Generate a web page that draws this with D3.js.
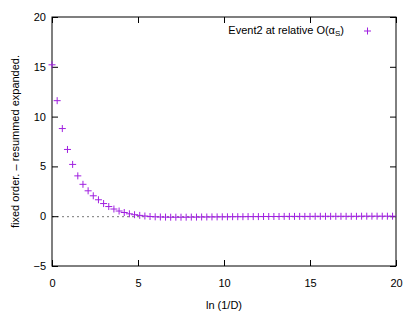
<!DOCTYPE html>
<html>
<head>
<meta charset="utf-8">
<script src="https://cdn.jsdelivr.net/npm/d3@7"></script>
<style>
  body { margin: 0; background: #fff; }
  text { font-family: "Liberation Sans", Arial, sans-serif; font-size: 11px; fill: #000; }
</style>
</head>
<body>
<div id="chart-area"></div>
<script>
// data: x = 0, 0.3, 0.6 ... 19.8
var xValues = [0, 0.3, 0.6, 0.9, 1.2, 1.5, 1.8, 2.1, 2.4, 2.7,
    3.0, 3.3, 3.6, 3.9, 4.2, 4.5, 4.8, 5.1, 5.4, 5.7,
    6.0, 6.3, 6.6, 6.9, 7.2, 7.5, 7.8, 8.1, 8.4, 8.7,
    9.0, 9.3, 9.6, 9.9, 10.2, 10.5, 10.8, 11.1, 11.4, 11.7,
    12.0, 12.3, 12.6, 12.9, 13.2, 13.5, 13.8, 14.1, 14.4, 14.7,
    15.0, 15.3, 15.6, 15.9, 16.2, 16.5, 16.8, 17.1, 17.4, 17.7,
    18.0, 18.3, 18.6, 18.9, 19.2, 19.5, 19.8];
var yValues = [15.2, 11.6, 8.8, 6.7, 5.2, 4.05, 3.2, 2.55, 2.05, 1.65,
    1.27, 0.97, 0.72, 0.52, 0.37, 0.24, 0.15, 0.08, 0.02, -0.03,
    -0.06, -0.08, -0.09, -0.1, -0.1, -0.1, -0.1, -0.09, -0.09, -0.08,
    -0.08, -0.07, -0.07, -0.06, -0.06, -0.05, -0.05, -0.05, -0.04, -0.04,
    -0.04, -0.03, -0.03, -0.03, -0.03, -0.02, -0.02, -0.02, -0.02, -0.02,
    -0.02, -0.01, -0.01, -0.01, -0.01, -0.01, -0.01, -0.01, -0.01, -0.01,
    0, 0, 0, 0, 0, 0, 0];
var xTicks = [0, 5, 10, 15, 20];
var yTicks = [-5, 0, 5, 10, 15, 20];
var seriesName = "Event2 at relative O(α";
var xTitle = "ln (1/D)";
var yTitle = "fixed order. – resummed expanded.";

var W = 415, H = 318;
var mLeft = 52, mRight = 396, mTop = 17, mBottom = 266;
var color = "#a020e0";

var svg = d3.select("#chart-area")
    .append("svg")
    .attr("width", W)
    .attr("height", H);

var x = d3.scaleLinear().domain([0, 20]).range([mLeft, mRight]);
var y = d3.scaleLinear().domain([-5, 20]).range([mBottom, mTop]);

// zero line
svg.append("line")
    .attr("x1", mLeft).attr("x2", mRight)
    .attr("y1", y(0) + 0.5).attr("y2", y(0) + 0.5)
    .attr("stroke", "#777")
    .attr("stroke-dasharray", "2,3");

// axes with inward ticks on all four sides
var tickLen = 6;
svg.append("g")
    .attr("transform", "translate(0," + mBottom + ")")
    .call(d3.axisBottom(x).tickValues(xTicks).tickSizeInner(-tickLen).tickSizeOuter(0).tickPadding(13));
svg.append("g")
    .attr("transform", "translate(0," + mTop + ")")
    .call(d3.axisTop(x).tickValues(xTicks).tickSizeInner(-tickLen).tickSizeOuter(0).tickFormat(""));
svg.append("g")
    .attr("transform", "translate(" + mLeft + ",0)")
    .call(d3.axisLeft(y).tickValues(yTicks).tickSizeInner(-tickLen).tickSizeOuter(0).tickPadding(6));
svg.append("g")
    .attr("transform", "translate(" + mRight + ",0)")
    .call(d3.axisRight(y).tickValues(yTicks).tickSizeInner(-tickLen).tickSizeOuter(0).tickFormat(""));

svg.selectAll(".domain").remove();
svg.selectAll(".tick line").attr("stroke", "#000");
svg.selectAll(".tick text")
    .attr("font-family", "Liberation Sans, Arial, sans-serif")
    .attr("font-size", 11)
    .attr("fill", "#000");

svg.append("rect")
    .attr("x", mLeft).attr("y", mTop)
    .attr("width", mRight - mLeft).attr("height", mBottom - mTop)
    .attr("fill", "none")
    .attr("stroke", "#000");

// points as plus signs
var s = 3.5;
var plusPath = function(cx, cy) {
    return "M" + (cx - s) + "," + cy + "H" + (cx + s) + "M" + cx + "," + (cy - s) + "V" + (cy + s);
};
var pts = xValues.map(function(d, i) { return { x: d, y: yValues[i] }; });
svg.append("g").selectAll("path")
    .data(pts)
    .enter()
    .append("path")
        .attr("d", function(d) { return plusPath(x(d.x), y(d.y)); })
        .attr("stroke", color)
        .attr("stroke-width", 1)
        .attr("fill", "none");

// legend
var leg = svg.append("text")
    .attr("x", 344).attr("y", 34)
    .attr("text-anchor", "end");
leg.append("tspan").text(seriesName);
leg.append("tspan").attr("font-size", 8).attr("dy", 2).text("S");
leg.append("tspan").attr("dy", -2).text(")");
svg.append("path")
    .attr("d", plusPath(367.5, 31))
    .attr("stroke", color)
    .attr("fill", "none");

// titles
svg.append("text")
    .attr("x", (mLeft + mRight) / 2).attr("y", 309)
    .attr("text-anchor", "middle")
    .text(xTitle);
svg.append("text")
    .attr("transform", "translate(19," + ((mTop + mBottom) / 2) + ") rotate(-90)")
    .attr("text-anchor", "middle")
    .text(yTitle);
</script>
</body>
</html>
